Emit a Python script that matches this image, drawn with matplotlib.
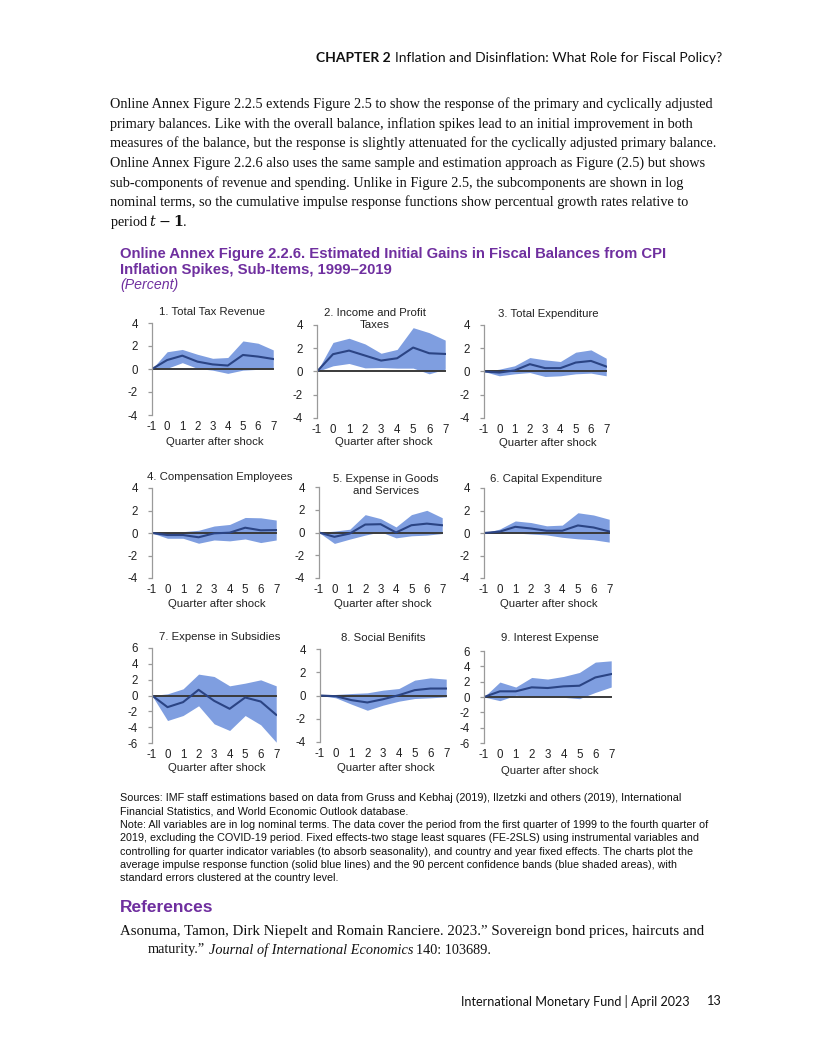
import numpy as np
import matplotlib
matplotlib.use("Agg")
import matplotlib.pyplot as plt

plt.rcParams['axes.unicode_minus'] = False
plt.rcParams['mathtext.fontset'] = 'dejavuserif'

# === 1. Data ===
quarters = [-1, 0, 1, 2, 3, 4, 5, 6, 7]

panel_titles = ['1. Total Tax Revenue', '2. Income and Profit\nTaxes', '3. Total Expenditure',
                '4. Compensation Employees', '5. Expense in Goods\nand Services', '6. Capital Expenditure',
                '7. Expense in Subsidies', '8. Social Benifits', '9. Interest Expense']

tax_mid = [0, 0.78, 1.16, 0.64, 0.40, 0.30, 1.22, 1.08, 0.87]
tax_hi = [0, 1.50, 1.70, 1.28, 0.93, 1.00, 2.44, 2.24, 1.66]
tax_lo = [0, 0.06, 0.55, 0.05, -0.10, -0.38, -0.10, -0.03, 0.05]

income_mid = [0, 1.49, 1.80, 1.37, 0.94, 1.14, 2.06, 1.57, 1.51]
income_hi = [0, 2.50, 2.86, 2.37, 1.57, 1.90, 3.77, 3.34, 2.70]
income_lo = [0, 0.49, 0.69, 0.31, 0.34, 0.29, 0.29, -0.20, 0.20]

totexp_mid = [0, -0.09, 0.09, 0.63, 0.29, 0.29, 0.77, 0.91, 0.43]
totexp_hi = [0, 0.20, 0.49, 1.20, 1.00, 0.86, 1.66, 1.86, 1.14]
totexp_lo = [0, -0.37, -0.20, -0.09, -0.43, -0.37, -0.20, -0.14, -0.37]

comp_mid = [0, -0.18, -0.18, -0.38, -0.03, 0.03, 0.47, 0.24, 0.26]
comp_hi = [0, 0.12, 0.12, 0.24, 0.62, 0.76, 1.38, 1.35, 1.15]
comp_lo = [0, -0.47, -0.47, -0.91, -0.62, -0.70, -0.53, -0.85, -0.62]

goods_mid = [0, -0.38, -0.09, 0.70, 0.73, 0.00, 0.64, 0.78, 0.64]
goods_hi = [0, 0.12, 0.29, 1.57, 1.22, 0.49, 1.57, 1.95, 1.30]
goods_lo = [0, -0.96, -0.58, -0.23, 0.06, -0.47, -0.29, -0.23, -0.09]

capex_mid = [0, 0.12, 0.55, 0.40, 0.20, 0.20, 0.67, 0.49, 0.14]
capex_hi = [0, 0.35, 1.07, 0.93, 0.64, 0.70, 1.80, 1.60, 1.22]
capex_lo = [0, -0.03, 0.00, -0.09, -0.17, -0.38, -0.52, -0.60, -0.81]

subs_mid = [0, -1.47, -0.84, 0.72, -0.67, -1.68, -0.25, -0.76, -2.44]
subs_hi = [0, 0.21, 0.84, 2.70, 2.40, 1.22, 1.56, 1.98, 1.22]
subs_lo = [0, -3.16, -2.53, -1.30, -3.58, -4.42, -2.53, -3.70, -5.90]

social_mid = [0, -0.06, -0.40, -0.60, -0.32, 0.03, 0.46, 0.60, 0.60]
social_hi = [0, 0.09, 0.17, 0.23, 0.46, 0.60, 1.32, 1.52, 1.41]
social_lo = [0, -0.20, -0.75, -1.27, -0.83, -0.49, -0.26, -0.20, -0.12]

interest_mid = [0, 0.74, 0.74, 1.26, 1.17, 1.39, 1.47, 2.55, 2.99]
interest_hi = [0, 1.95, 1.30, 2.55, 2.34, 2.68, 3.20, 4.55, 4.72]
interest_lo = [0, -0.48, 0.22, 0.09, 0.00, -0.04, -0.22, 0.60, 1.30]

mids = [tax_mid, income_mid, totexp_mid, comp_mid, goods_mid, capex_mid, subs_mid, social_mid, interest_mid]
highs = [tax_hi, income_hi, totexp_hi, comp_hi, goods_hi, capex_hi, subs_hi, social_hi, interest_hi]
lows = [tax_lo, income_lo, totexp_lo, comp_lo, goods_lo, capex_lo, subs_lo, social_lo, interest_lo]
y_limits = [4, 4, 4, 4, 4, 4, 6, 4, 6]

# === 2. Page setup ===
W, H = 816, 1056
fig = plt.figure(figsize=(W / 100, H / 100), dpi=100)
renderer = fig.canvas.get_renderer()

def fx(x):
    return x / W

def fy(y):
    return 1 - y / H

def width_px(t):
    return t.get_window_extent(renderer=renderer).width

PURPLE = '#6f2f9f'
BAND = '#7f9ee0'
LINE = '#2b4484'
ZERO = '#3a3a3a'
SANS = 'Liberation Sans'
SERIF = 'Liberation Serif'

# header: bold "CHAPTER 2" placed left of the regular part
hdr = fig.text(fx(722), fy(58), 'Inflation and Disinflation: What Role for Fiscal Policy?', ha='right',
               va='center', fontsize=10.0, family='Lato', color='#111111')
hw = width_px(hdr)
fig.text(fx(722 - hw - 4), fy(58), 'CHAPTER 2', ha='right', va='center', fontsize=10.0,
         fontweight='bold', family='Lato', color='#111111')

# paragraph
para = ['Online Annex Figure 2.2.5 extends Figure 2.5 to show the response of the primary and cyclically adjusted',
        'primary balances. Like with the overall balance, inflation spikes lead to an initial improvement in both',
        'measures of the balance, but the response is slightly attenuated for the cyclically adjusted primary balance.',
        'Online Annex Figure 2.2.6 also uses the same sample and estimation approach as Figure (2.5) but shows',
        'sub-components of revenue and spending. Unlike in Figure 2.5, the subcomponents are shown in log',
        'nominal terms, so the cumulative impulse response functions show percentual growth rates relative to',
        r'period $t - \mathbf{1}$.']
for i, line in enumerate(para):
    fig.text(fx(110), fy(104 + i * 19.7), line, ha='left', va='center', fontsize=10.25, family=SERIF,
             color='#111111')

# figure title
fig.text(fx(120), fy(254), 'Online Annex Figure 2.2.6. Estimated Initial Gains in Fiscal Balances from CPI',
         ha='left', va='center', fontsize=10.7, fontweight='bold', family=SANS, color=PURPLE)
fig.text(fx(120), fy(270), 'Inflation Spikes, Sub-Items, 1999\u20132019',
         ha='left', va='center', fontsize=10.7, fontweight='bold', family=SANS, color=PURPLE)
fig.text(fx(120), fy(285), '(Percent)', ha='left', va='center', fontsize=10.2, style='italic',
         family=SANS, color=PURPLE)

# === 3. Panels ===
# left, right, top, bottom in pixels
rects = [(152, 274, 323, 415), (317, 446, 325, 418), (484, 607, 325, 418),
         (152, 277, 488, 578), (319, 443, 487, 578), (484, 610, 488, 578),
         (152, 277, 648, 743), (320, 447, 649, 742), (484, 612, 651, 743)]
title_pos = [(212, 312), (375, 319.5), (548, 314),
             (220, 477), (386, 485), (546, 479),
             (220, 637), (383, 638), (550, 638)]
label_y = [442, 442, 443, 604, 604, 604, 768, 768, 771]

for k in range(9):
    l, r, t, b = rects[k]
    ax = fig.add_axes([fx(l), fy(b), (r - l) / W, (b - t) / H])
    ax.fill_between(quarters, lows[k], highs[k], color=BAND, linewidth=0)
    ax.plot([quarters[0], quarters[-1]], [0, 0], color=ZERO, linewidth=1.4)
    ax.plot(quarters, mids[k], color=LINE, linewidth=1.5)
    lim = y_limits[k]
    ax.set_xlim(-1, 7.05)
    ax.set_ylim(-lim, lim)
    ax.set_yticks(np.arange(-lim, lim + 1, 2))
    ax.set_xticks(quarters)
    for s in ['top', 'right', 'bottom']:
        ax.spines[s].set_visible(False)
    ax.spines['left'].set_color('#9a9a9a')
    ax.spines['left'].set_linewidth(0.9)
    ax.tick_params(axis='y', length=3, width=0.9, color='#9a9a9a', pad=7, labelsize=8.3,
                   labelcolor='#222222')
    ax.tick_params(axis='x', length=0, pad=4, labelsize=8.3, labelcolor='#222222')
    for lab in ax.get_xticklabels() + ax.get_yticklabels():
        lab.set_family(SANS)
    ax.patch.set_alpha(0)
    tx, ty = title_pos[k]
    fig.text(fx(tx), fy(ty), panel_titles[k], ha='center', va='center', fontsize=8.2, family=SANS,
             color='#222222', linespacing=1.25)
    fig.text(fx((l + r) / 2 + 2), fy(label_y[k]), 'Quarter after shock', ha='center', va='center',
             fontsize=8.2, family=SANS, color='#222222')

# === 4. Notes ===
notes = ['Sources: IMF staff estimations based on data from Gruss and Kebhaj (2019), Ilzetzki and others (2019), International',
         'Financial Statistics, and World Economic Outlook database.',
         'Note: All variables are in log nominal terms. The data cover the period from the first quarter of 1999 to the fourth quarter of',
         '2019, excluding the COVID-19 period. Fixed effects-two stage least squares (FE-2SLS) using instrumental variables and',
         'controlling for quarter indicator variables (to absorb seasonality), and country and year fixed effects. The charts plot the',
         'average impulse response function (solid blue lines) and the 90 percent confidence bands (blue shaded areas), with',
         'standard errors clustered at the country level.']
for i, line in enumerate(notes):
    fig.text(fx(120), fy(798 + i * 13.4), line, ha='left', va='center', fontsize=7.75, family=SANS,
             color='#111111')

# === 5. References ===
fig.text(fx(120), fy(908), 'References', ha='left', va='center', fontsize=12.5, fontweight='bold',
         family=SANS, color=PURPLE)
fig.text(fx(120), fy(931), 'Asonuma, Tamon, Dirk Niepelt and Romain Ranciere. 2023.\u201d Sovereign bond prices, haircuts and',
         ha='left', va='center', fontsize=10.7, family=SERIF, color='#111111')
x0 = 148
for piece, st in [('maturity.\u201d', 'normal'), ('Journal of International Economics', 'italic'),
                  ('140: 103689.', 'normal')]:
    t = fig.text(fx(x0), fy(950), piece, ha='left', va='center', fontsize=10.3, family=SERIF,
                 style=st, color='#111111')
    x0 += width_px(t) + 3.5

# footer
fig.text(fx(690), fy(1001), 'International Monetary Fund | April 2023', ha='right', va='center', fontsize=9.05,
         family='Lato', color='#111111')
fig.text(fx(722), fy(1001), '13', ha='right', va='center', fontsize=9.05, family='Lato', color='#111111')

plt.savefig('out.png', dpi=100)
